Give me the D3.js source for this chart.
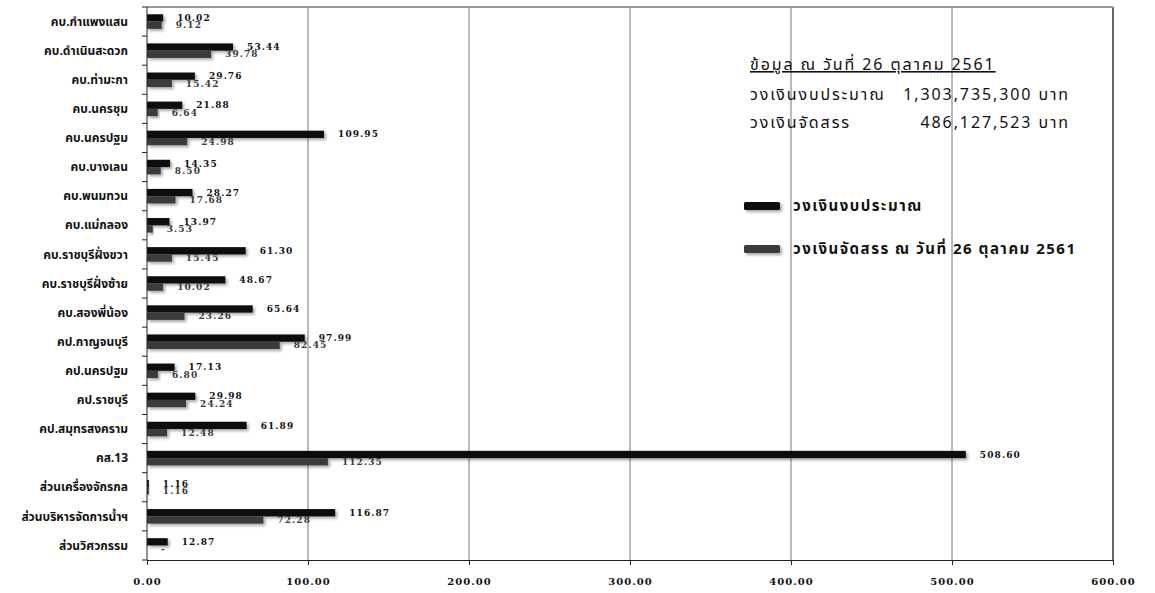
<!DOCTYPE html>
<html>
<head>
<meta charset="utf-8">
<script src="https://cdn.jsdelivr.net/npm/d3@7"></script>
<style>
  body { margin: 0; background: #fff; }
  .num { font-family: "DejaVu Serif", serif; font-weight: bold; }
  .thai { font-family: "Noto Sans Thai", Tahoma, "DejaVu Sans", sans-serif; }
</style>
</head>
<body>
<div id="chart"></div>
<script>
// งบประมาณ แยกตามหน่วยงาน (ล้านบาท)

const units = ["คบ.กำแพงแสน", "คบ.ดำเนินสะดวก", "คบ.ท่ามะกา", "คบ.นครชุม", "คบ.นครปฐม",
  "คบ.บางเลน", "คบ.พนมทวน", "คบ.แม่กลอง", "คบ.ราชบุรีฝั่งขวา", "คบ.ราชบุรีฝั่งซ้าย",
  "คบ.สองพี่น้อง", "คป.กาญจนบุรี", "คป.นครปฐม", "คป.ราชบุรี", "คป.สมุทรสงคราม",
  "คส.13", "ส่วนเครื่องจักรกล", "ส่วนบริหารจัดการน้ำฯ", "ส่วนวิศวกรรม"];
const budget = [10.02, 53.44, 29.76, 21.88, 109.95, 14.35, 28.27, 13.97, 61.30, 48.67,
  65.64, 97.99, 17.13, 29.98, 61.89, 508.60, 1.16, 116.87, 12.87];
const allocated = [9.12, 39.78, 15.42, 6.64, 24.98, 8.50, 17.68, 3.53, 15.45, 10.02,
  23.26, 82.45, 6.80, 24.24, 12.48, 112.35, 1.16, 72.28, 0];
const seriesNames = ["วงเงินงบประมาณ", "วงเงินจัดสรร ณ วันที่ 26 ตุลาคม 2561"];
const xTicks = [0, 100, 200, 300, 400, 500, 600];
const infoTitle = "ข้อมูล ณ วันที่ 26 ตุลาคม 2561";
const infoRows = [["วงเงินงบประมาณ", "1,303,735,300 บาท"], ["วงเงินจัดสรร", "486,127,523 บาท"]];

const colors = ["#111111", "#3b3b3b"];
const width = 1155, height = 593;
const margin = {top: 7, right: 42, bottom: 33, left: 147};

const svg = d3.select("#chart").append("svg")
  .attr("width", width)
  .attr("height", height);

const defs = svg.append("defs");
defs.append("filter")
    .attr("id", "shadow")
    .attr("x", "-10%").attr("y", "-50%")
    .attr("width", "130%").attr("height", "250%")
  .append("feDropShadow")
    .attr("dx", 2).attr("dy", 2)
    .attr("stdDeviation", 1.5)
    .attr("flood-color", "#000")
    .attr("flood-opacity", 0.35);

const x = d3.scaleLinear()
  .domain([0, 600])
  .range([margin.left, width - margin.right]);

const y = d3.scaleBand()
  .domain(units)
  .range([margin.top, height - margin.bottom])
  .paddingInner(0.5)
  .paddingOuter(0.25);

const ySub = d3.scaleBand()
  .domain([0, 1])
  .range([0, y.bandwidth()]);

const fmt = d3.format(".2f");

// grid lines
svg.append("g")
  .selectAll("line")
  .data(xTicks.slice(1))
  .join("line")
    .attr("x1", d => x(d)).attr("x2", d => x(d))
    .attr("y1", margin.top).attr("y2", height - margin.bottom)
    .attr("stroke", d => d === 600 ? "#333" : "#777")
    .attr("stroke-width", d => d === 600 ? 1.5 : 1);

// top border
svg.append("line")
  .attr("x1", margin.left).attr("x2", x(600))
  .attr("y1", margin.top).attr("y2", margin.top)
  .attr("stroke", "#999")
  .attr("stroke-width", 2);

// bars
const rows = units.map((u, i) => ({unit: u, vals: [budget[i], allocated[i]]}));

const groups = svg.append("g")
  .selectAll("g")
  .data(rows)
  .join("g")
    .attr("transform", d => `translate(0,${y(d.unit)})`);

groups.selectAll("rect")
  .data(d => d.vals.map((v, k) => ({v, k})))
  .join("rect")
    .attr("x", x(0))
    .attr("y", d => ySub(d.k))
    .attr("width", d => x(d.v) - x(0))
    .attr("height", ySub.bandwidth())
    .attr("fill", d => colors[d.k])
    .attr("filter", "url(#shadow)");

groups.selectAll("text")
  .data(d => d.vals.map((v, k) => ({v, k})))
  .join("text")
    .attr("class", "num")
    .attr("x", d => x(d.v) + 14)
    .attr("y", d => ySub(d.k) + ySub.bandwidth() / 2)
    .attr("dy", "0.35em")
    .attr("font-size", 9)
    .attr("letter-spacing", 1.1)
    .attr("fill", d => colors[d.k])
    .text(d => d.v === 0 ? "-" : fmt(d.v));

// left axis
const left = svg.append("g");
left.append("line")
  .attr("x1", x(0)).attr("x2", x(0))
  .attr("y1", margin.top).attr("y2", height - margin.bottom)
  .attr("stroke", "#222");
left.selectAll("line.tick")
  .data(d3.range(units.length + 1))
  .join("line")
    .attr("class", "tick")
    .attr("x1", x(0) - 5).attr("x2", x(0))
    .attr("y1", i => margin.top + i * y.step())
    .attr("y2", i => margin.top + i * y.step())
    .attr("stroke", "#222");
left.selectAll("text")
  .data(units)
  .join("text")
    .attr("class", "thai")
    .attr("x", 128)
    .attr("y", d => y(d) + y.bandwidth() / 2)
    .attr("dy", "0.35em")
    .attr("text-anchor", "end")
    .attr("font-size", 12)
    .attr("font-weight", "bold")
    .attr("fill", "#111")
    .text(d => d);

// bottom axis
const xAxis = d3.axisBottom(x)
  .tickValues(xTicks)
  .tickSize(5)
  .tickFormat(fmt);

svg.append("g")
  .attr("transform", `translate(0,${height - margin.bottom})`)
  .call(xAxis)
  .call(g => g.select(".domain").attr("stroke", "#222"))
  .call(g => g.selectAll(".tick line").attr("stroke", "#222"))
  .call(g => g.selectAll(".tick text")
    .attr("class", "num")
    .attr("font-size", 10)
    .attr("letter-spacing", 1)
    .attr("fill", "#111")
    .attr("y", 18));

// info box
const info = svg.append("g").attr("class", "thai").attr("fill", "#111")
  .attr("font-size", 16).attr("letter-spacing", 1.9);
info.append("text")
  .attr("x", 750).attr("y", 70)
  .attr("text-decoration", "underline")
  .text(infoTitle);
info.selectAll("text.row")
  .data(infoRows)
  .join("text")
    .attr("class", "row")
    .attr("x", 750)
    .attr("y", (d, i) => 100 + i * 28)
    .text(d => d[0]);
info.selectAll("text.val")
  .data(infoRows)
  .join("text")
    .attr("class", "val")
    .attr("x", 1070)
    .attr("y", (d, i) => 100 + i * 28)
    .attr("text-anchor", "end")
    .text(d => d[1]);

// legend
const legend = svg.append("g")
  .selectAll("g")
  .data(seriesNames)
  .join("g")
    .attr("transform", (d, i) => `translate(744,${206 + i * 43})`);
legend.append("rect")
  .attr("x", 0).attr("y", -4)
  .attr("width", 36).attr("height", 8)
  .attr("rx", 1.5)
  .attr("fill", (d, i) => colors[i])
  .attr("filter", "url(#shadow)");
legend.append("text")
  .attr("class", "thai")
  .attr("x", 49)
  .attr("dy", "0.35em")
  .attr("font-size", 15)
  .attr("letter-spacing", 1.5)
  .attr("font-weight", "bold")
  .attr("fill", "#111")
  .text(d => d);
</script>
</body>
</html>
